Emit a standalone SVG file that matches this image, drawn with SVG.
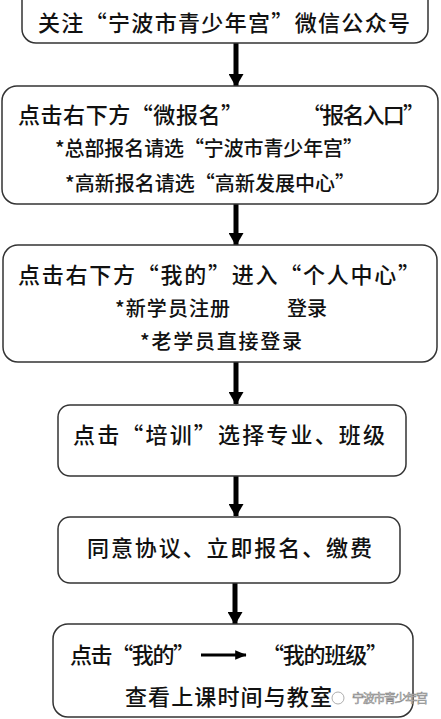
<svg xmlns="http://www.w3.org/2000/svg" width="441" height="719" viewBox="0 0 441 719">
<style>
.box{fill:#fff;stroke:#333;stroke-width:1.5}
.c{font-family:"Noto Sans CJK SC","Liberation Sans",sans-serif;fill:#111;font-weight:500}
.l{font-size:22px}
.m{font-size:20px}
.conn{stroke:#000;stroke-width:5;fill:none}
.wm{font-family:"Noto Sans CJK SC",sans-serif;font-size:12px;fill:#fff;stroke:#888;stroke-width:0.6}
</style>
<defs>
<marker id="ah" markerWidth="3" markerHeight="3" refX="2.4" refY="1.5" orient="auto" markerUnits="strokeWidth">
<path d="M0,0 L2.6,1.5 L0,3 Z" fill="#000"/>
</marker>
<marker id="ah2" markerWidth="4" markerHeight="4" refX="3.6" refY="2" orient="auto" markerUnits="strokeWidth">
<path d="M0,0.4 L3.8,2 L0,3.6 Z" fill="#000"/>
</marker>
</defs>
<rect width="441" height="719" fill="#fff"/>
<g id="connectors">
<line class="conn" x1="236" y1="43" x2="236" y2="86" marker-end="url(#ah)"/>
<line class="conn" x1="236" y1="204" x2="236" y2="245" marker-end="url(#ah)"/>
<line class="conn" x1="236" y1="362" x2="236" y2="404" marker-end="url(#ah)"/>
<line class="conn" x1="236" y1="476" x2="236" y2="516" marker-end="url(#ah)"/>
<line class="conn" x1="235" y1="583" x2="235" y2="624" marker-end="url(#ah)"/>
</g>
<g id="n1">
<rect class="box" x="22" y="-20" width="406" height="63" rx="14"/>
<text class="c l" x="38" y="31" textLength="372" lengthAdjust="spacing">关注“宁波市青少年宫”微信公众号</text>
</g>
<g id="n2">
<rect class="box" x="2" y="86" width="436" height="118" rx="15"/>
<text class="c l" x="18" y="123" textLength="225" lengthAdjust="spacing">点击右下方“微报名”</text>
<text class="c l" x="302" y="123" textLength="123" lengthAdjust="spacing">“报名入口”</text>
<text class="c m" x="55" y="156" textLength="308" lengthAdjust="spacing">*总部报名请选“宁波市青少年宫”</text>
<text class="c m" x="65" y="191" textLength="290" lengthAdjust="spacing">*高新报名请选“高新发展中心”</text>
</g>
<g id="n3">
<rect class="box" x="3" y="245" width="434" height="117" rx="15"/>
<text class="c l" x="18" y="283" textLength="402" lengthAdjust="spacing">点击右下方“我的”进入“个人中心”</text>
<text class="c m" x="115" y="316" textLength="115" lengthAdjust="spacing">*新学员注册</text>
<text class="c m" x="287" y="316" textLength="40" lengthAdjust="spacing">登录</text>
<text class="c m" x="140" y="349" textLength="162" lengthAdjust="spacing">*老学员直接登录</text>
</g>
<g id="n4">
<rect class="box" x="58" y="405" width="348" height="71" rx="12"/>
<text class="c l" x="73" y="443" textLength="312" lengthAdjust="spacing">点击“培训”选择专业、班级</text>
</g>
<g id="n5">
<rect class="box" x="58" y="517" width="342" height="66" rx="12"/>
<text class="c l" x="87" y="556" textLength="285" lengthAdjust="spacing">同意协议、立即报名、缴费</text>
</g>
<g id="n6">
<rect class="box" x="53" y="624" width="360" height="93" rx="15"/>
<text class="c l" x="70" y="663" textLength="125" lengthAdjust="spacing">点击“我的”</text>
<line x1="201" y1="655" x2="246" y2="655" stroke="#000" stroke-width="3" marker-end="url(#ah2)"/>
<text class="c l" x="262" y="663" textLength="126" lengthAdjust="spacing">“我的班级”</text>
<text class="c l" x="125" y="705" textLength="207" lengthAdjust="spacing">查看上课时间与教室</text>
</g>
<g id="watermark">
<circle cx="338" cy="698" r="6" fill="#fff" stroke="#999" stroke-width="0.8"/>
<text class="wm" x="352" y="703" textLength="76" lengthAdjust="spacing">宁波市青少年宫</text>
</g>
</svg>
